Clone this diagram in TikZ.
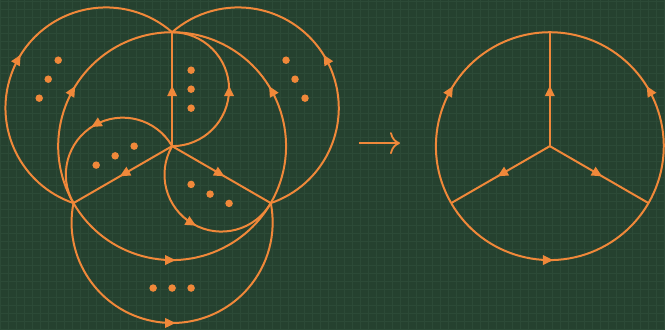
\documentclass[tikz,border=0pt]{standalone}
\usetikzlibrary{arrows.meta,decorations.markings}
\definecolor{bg}{HTML}{25412F}
\definecolor{gridc}{HTML}{2C4A37}
\definecolor{org}{HTML}{F0883A}
\tikzset{
  edge/.style={draw=org, line width=2pt},
  midarrow/.style={postaction={decorate},
    decoration={markings,mark=at position 0.5 with {\arrow[xshift=3.5pt,org]{Triangle[length=10.5pt,width=9.5pt]}}}},
  dot/.style={circle,fill=org,inner sep=0pt,minimum size=7.5pt},
}
\begin{document}
\begin{tikzpicture}[x=1pt,y=1pt]
\fill[bg] (0,0) rectangle (665,329);
\draw[gridc,line width=0.5pt,step=8pt] (0,0) grid (665,329);
\useasboundingbox (0,0) rectangle (665,329);

% left figure
\coordinate (Lc) at (172,183);
\coordinate (Lt) at (172,297);
\coordinate (Ll) at (73.27,126);
\coordinate (Lr) at (270.73,126);

\draw[edge,midarrow] (Ll) arc[start angle=210,end angle=90,radius=114pt];
\draw[edge,midarrow] (Lr) arc[start angle=-30,end angle=90,radius=114pt];
\draw[edge,midarrow] (Ll) arc[start angle=210,end angle=330,radius=114pt];

\draw[edge,midarrow] (Lc) -- (Lt);
\draw[edge,midarrow] (Lc) -- (Ll);
\draw[edge,midarrow] (Lc) -- (Lr);

\draw[edge,midarrow] (Lc) arc[start angle=-90,end angle=90,radius=57pt];
\draw[edge,midarrow] (Lc) arc[start angle=30,end angle=210,radius=57pt];
\draw[edge,midarrow] (Lc) arc[start angle=150,end angle=330,radius=57pt];

\draw[edge,midarrow] (Ll) arc[start angle=251.1,end angle=48.9,radius=100.62pt];
\draw[edge,midarrow] (Lr) arc[start angle=-71.1,end angle=131.1,radius=100.62pt];
\draw[edge,midarrow] (Ll) arc[start angle=168.9,end angle=371.1,radius=100.62pt];

% dots
\node[dot] (d1) at (191,259) {};
\node[dot] (d2) at (191,240) {};
\node[dot] (d3) at (191,221) {};
\node[dot] (d4) at (96,164) {};
\node[dot] (d5) at (115,173.3) {};
\node[dot] (d6) at (134,183) {};
\node[dot] (d7) at (191,144.7) {};
\node[dot] (d8) at (210,135) {};
\node[dot] (d9) at (229,125.7) {};
\node[dot] (d10) at (58,269) {};
\node[dot] (d11) at (48,250) {};
\node[dot] (d12) at (39,231) {};
\node[dot] (d13) at (286,269) {};
\node[dot] (d14) at (295,250) {};
\node[dot] (d15) at (305,231) {};
\node[dot] (d16) at (153,41) {};
\node[dot] (d17) at (172,41) {};
\node[dot] (d18) at (191,41) {};

% middle arrow
\coordinate (a1) at (359,186);
\coordinate (a2) at (400,186);
\draw[org,line width=1.8pt,-{Computer Modern Rightarrow[length=10pt,width=22pt]}] (a1) -- (a2);

% right figure
\coordinate (Rc) at (550,183);
\coordinate (Rt) at (550,297);
\coordinate (Rl) at (451.27,126);
\coordinate (Rr) at (648.73,126);

\draw[edge,midarrow] (Rl) arc[start angle=210,end angle=90,radius=114pt];
\draw[edge,midarrow] (Rr) arc[start angle=-30,end angle=90,radius=114pt];
\draw[edge,midarrow] (Rl) arc[start angle=210,end angle=330,radius=114pt];

\draw[edge,midarrow] (Rc) -- (Rt);
\draw[edge,midarrow] (Rc) -- (Rl);
\draw[edge,midarrow] (Rc) -- (Rr);
\end{tikzpicture}
\end{document}
